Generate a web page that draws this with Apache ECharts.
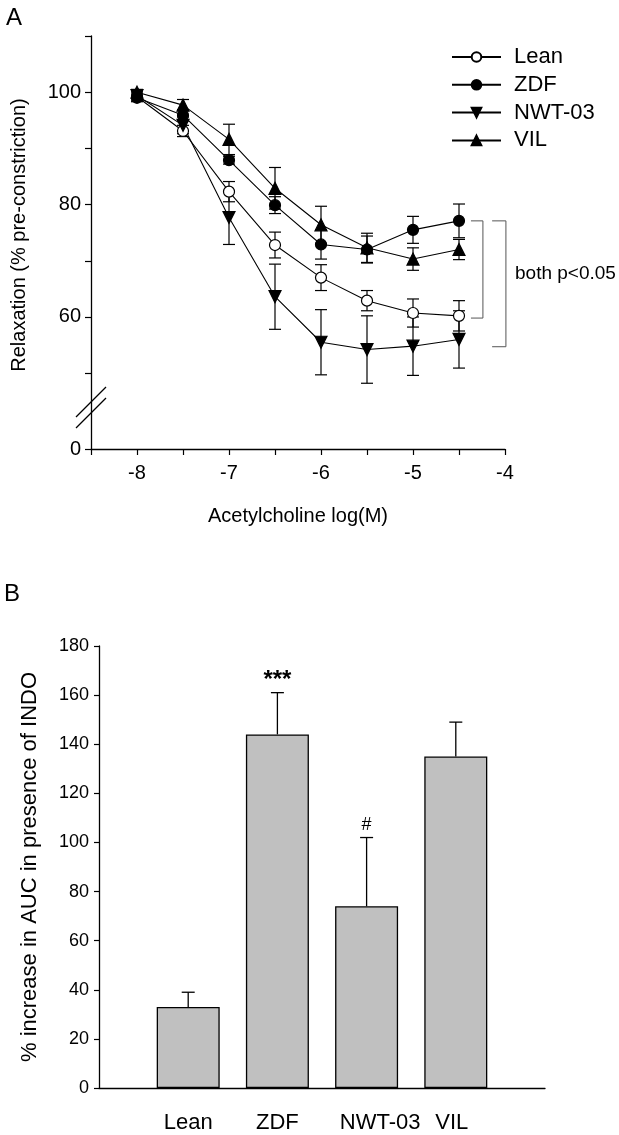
<!DOCTYPE html>
<html><head><meta charset="utf-8">
<script src="https://cdn.jsdelivr.net/npm/echarts@6/dist/echarts.min.js"></script>
<style>html,body{margin:0;padding:0;background:#fff}#c{width:619px;height:1135px}</style>
</head><body><div id="c"></div>
<script>
// ---- Panel A data ----
const doses = [-8, -7.5, -7, -6.5, -6, -5.5, -5, -4.5];
const leanMean = [99.2, 93.1, 82.3, 72.8, 67.0, 62.9, 60.7, 60.2];
const leanErr  = [0.8, 1.0, 1.8, 2.3, 2.3, 1.8, 2.5, 2.7];
const zdfMean  = [99.0, 95.9, 87.9, 79.9, 72.9, 72.0, 75.5, 77.1];
const zdfErr   = [0.7, 1.0, 0.7, 1.5, 2.6, 2.4, 2.4, 3.0];
const nwtMean  = [99.4, 94.1, 77.7, 63.6, 55.5, 54.2, 54.8, 56.0];
const nwtErr   = [0.8, 1.5, 4.8, 5.8, 5.8, 6.0, 5.2, 5.1];
const vilMean  = [100.0, 97.7, 91.6, 82.9, 76.4, 72.3, 70.3, 72.0];
const vilErr   = [0.5, 1.0, 2.7, 3.7, 3.3, 2.6, 2.0, 1.8];
const seriesNames = ['Lean', 'ZDF', 'NWT-03', 'VIL'];
const xTickLabels = [-8, -7, -6, -5, -4];
const breakBase = 36.5;               // axis position drawn as "0" (broken axis)
const yTickValsA = [breakBase, 50, 60, 70, 80, 90, 100, 110];
const yLabelValsA = [breakBase, 60, 80, 100];
const brackets = [[-4.37, -4.24, 77.1, 59.8], [-4.14, -3.99, 77.1, 54.7]];

// ---- Panel B data ----
const barCats = ['Lean', 'ZDF', 'NWT-03', 'VIL'];
const barMean = [33, 144, 74, 135];
const barErr  = [6, 17, 28, 14];
const barMarks = ['', '***', '#', ''];

const FONT = 'Liberation Sans, Arial, sans-serif';
const chart = echarts.init(document.getElementById('c'), null, {renderer: 'canvas'});

const means = [leanMean, zdfMean, nwtMean, vilMean];
const errs = [leanErr, zdfErr, nwtErr, vilErr];
const symbols = [
  {symbol: 'circle', size: 11, fill: '#fff', rot: 0},
  {symbol: 'circle', size: 11, fill: '#000', rot: 0},
  {symbol: 'triangle', size: 12, fill: '#000', rot: 180},
  {symbol: 'triangle', size: 12, fill: '#000', rot: 0}
];

function errRender(params, api) {
  const x = api.value(0), lo = api.value(1), hi = api.value(2);
  const a = api.coord([x, lo]), b = api.coord([x, hi]);
  const w = 6;
  const st = {stroke: '#000', lineWidth: 1.2};
  return {type: 'group', children: [
    {type: 'line', shape: {x1: a[0], y1: a[1], x2: b[0], y2: b[1]}, style: st},
    {type: 'line', shape: {x1: a[0] - w, y1: a[1], x2: a[0] + w, y2: a[1]}, style: st},
    {type: 'line', shape: {x1: b[0] - w, y1: b[1], x2: b[0] + w, y2: b[1]}, style: st}
  ]};
}

const series = [];
means.forEach((m, i) => {
  series.push({
    type: 'custom', xAxisIndex: 0, yAxisIndex: 0, z: 1, silent: true,
    renderItem: errRender,
    data: doses.map((d, j) => [d, m[j] - errs[i][j], m[j] + errs[i][j]])
  });
});
means.forEach((m, i) => {
  const s = symbols[i];
  series.push({
    name: seriesNames[i], type: 'line', xAxisIndex: 0, yAxisIndex: 0, z: 3,
    symbol: s.symbol, symbolSize: s.size, symbolRotate: s.rot,
    lineStyle: {color: '#000', width: 1.1},
    itemStyle: {color: s.fill, borderColor: '#000', borderWidth: 1.2, opacity: 1},
    data: doses.map((d, j) => [d, m[j]]),
    animation: false
  });
});
// brackets
series.push({
  type: 'custom', xAxisIndex: 0, yAxisIndex: 0, clip: false, silent: true,
  renderItem: function (params, api) {
    const x1 = api.value(0), x2 = api.value(1), yt = api.value(2), yb = api.value(3);
    const tl = api.coord([x1, yt]), tr = api.coord([x2, yt]);
    const bl = api.coord([x1, yb]), br = api.coord([x2, yb]);
    return {type: 'polyline', shape: {points: [tl, tr, br, bl]},
      style: {stroke: '#555', lineWidth: 1, fill: null}};
  },
  data: brackets
});
// bars
const barData = [null].concat(barMean, [null]);
series.push({
  type: 'bar', xAxisIndex: 1, yAxisIndex: 1, barWidth: 63,
  itemStyle: {color: '#c0c0c0', borderColor: '#000', borderWidth: 1.3},
  data: barData, z: 2
});
series.push({
  type: 'custom', xAxisIndex: 1, yAxisIndex: 1, z: 1, clip: false, silent: true,
  renderItem: function (params, api) {
    const x = api.value(0), m = api.value(1), e = api.value(2);
    const mark = barMarks[params.dataIndex];
    const a = api.coord([x, m]), b = api.coord([x, m + e]);
    const st = {stroke: '#000', lineWidth: 1.3};
    const ch = [
      {type: 'line', shape: {x1: a[0], y1: a[1], x2: b[0], y2: b[1]}, style: st},
      {type: 'line', shape: {x1: b[0] - 6.5, y1: b[1], x2: b[0] + 6.5, y2: b[1]}, style: st}
    ];
    if (mark) {
      const star = mark !== '#';
      ch.push({type: 'text', style: {text: mark, x: b[0], y: b[1] - (star ? 12 : 13),
        align: 'center', verticalAlign: 'middle', fontFamily: FONT,
        fontSize: star ? 24 : 18, fontWeight: star ? 'bold' : 'normal', fill: '#000'}});
    }
    return {type: 'group', children: ch};
  },
  data: barCats.map((c, i) => [i + 1, barMean[i], barErr[i]])
});

const axisLine = {show: true, lineStyle: {color: '#000', width: 1.3}};

const option = {
  animation: false,
  backgroundColor: '#fff',
  textStyle: {fontFamily: FONT},
  grid: [
    {left: 91, right: 114, top: 36, bottom: 686, containLabel: false},
    {left: 99, right: 74, top: 646, bottom: 47, containLabel: false}
  ],
  legend: {
    data: seriesNames, orient: 'vertical', left: 451, top: 46, padding: 0,
    itemWidth: 49, itemHeight: 12, itemGap: 5.8,
    textStyle: {fontFamily: FONT, fontSize: 22, color: '#000', padding: [0, 0, 0, 8], lineHeight: 22},
    inactiveColor: '#000', selectedMode: false
  },
  xAxis: [
    {type: 'value', gridIndex: 0, min: -8.5, max: -4, interval: 0.5,
     axisLine: axisLine, splitLine: {show: false},
     axisTick: {show: true, length: 6, lineStyle: {color: '#000', width: 1.2}},
     axisLabel: {margin: 14, fontSize: 20, color: '#000', fontFamily: FONT,
       formatter: v => (xTickLabels.indexOf(v) >= 0 ? String(v) : '')},
     name: 'Acetylcholine log(M)', nameLocation: 'middle', nameGap: 57,
     nameTextStyle: {fontSize: 20, color: '#000', fontFamily: FONT}},
    {type: 'category', gridIndex: 1, boundaryGap: false,
     data: [''].concat(barCats.map(c => {
       if (c === 'NWT-03') return {value: c, textStyle: {padding: [0, 0, 0, 27]}};
       if (c === 'VIL') return {value: c, textStyle: {padding: [0, 8, 0, 0]}};
       return c;
     }), ['']),
     axisLine: axisLine, axisTick: {show: false}, splitLine: {show: false},
     axisLabel: {interval: 0, margin: 24, fontSize: 22, color: '#000', fontFamily: FONT}}
  ],
  yAxis: [
    {type: 'value', gridIndex: 0, min: breakBase, max: 110,
     axisLine: axisLine, splitLine: {show: false},
     axisTick: {show: true, length: 6, customValues: yTickValsA, lineStyle: {color: '#000', width: 1.2}},
     axisLabel: {margin: 10, fontSize: 20, color: '#000', fontFamily: FONT, customValues: yLabelValsA,
       formatter: v => (v === breakBase ? '0' : String(v))},
     name: 'Relaxation (% pre-constriction)', nameLocation: 'middle', nameGap: 62,
     nameTextStyle: {fontSize: 20, color: '#000', fontFamily: FONT, padding: [0, 0, 0, 15]}},
    {type: 'value', gridIndex: 1, min: 0, max: 180, interval: 20,
     axisLine: axisLine, splitLine: {show: false},
     axisTick: {show: true, length: 5, lineStyle: {color: '#000', width: 1.2}},
     axisLabel: {margin: 10, fontSize: 18, color: '#000', fontFamily: FONT},
     name: '% increase in AUC in presence of INDO', nameLocation: 'middle', nameGap: 58,
     nameTextStyle: {fontSize: 22, color: '#000', fontFamily: FONT}}
  ],
  graphic: [
    {type: 'text', left: 6, top: 6, style: {text: 'A', fontSize: 24, fontFamily: FONT, fill: '#000'}},
    {type: 'text', left: 4, top: 582, style: {text: 'B', fontSize: 24, fontFamily: FONT, fill: '#000'}},
    {type: 'text', left: 515, top: 264, style: {text: 'both p<0.05', fontSize: 19, fontFamily: FONT, fill: '#000'}},
    {type: 'line', shape: {x1: 76, y1: 417, x2: 106, y2: 387}, style: {stroke: '#000', lineWidth: 1.2}},
    {type: 'line', shape: {x1: 76, y1: 428, x2: 106, y2: 398}, style: {stroke: '#000', lineWidth: 1.2}}
  ],
  series: series
};
chart.setOption(option);
</script>
</body></html>
